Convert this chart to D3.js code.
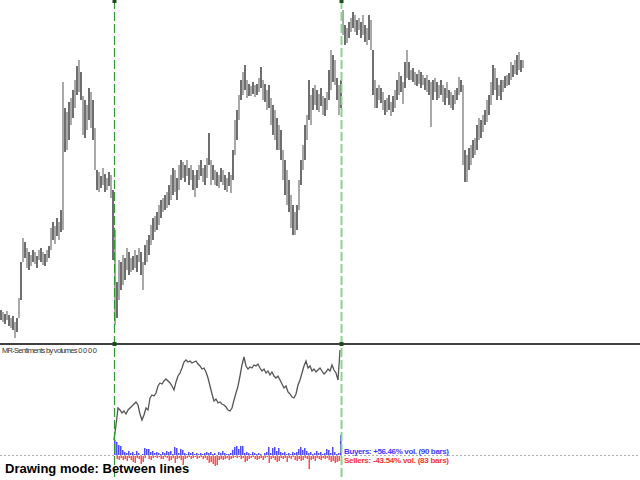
<!DOCTYPE html>
<html>
<head>
<meta charset="utf-8">
<script src="https://cdn.jsdelivr.net/npm/d3@7/dist/d3.min.js"></script>
<style>
    html, body { margin: 0; padding: 0; background: #fff; }
    svg { display: block; font-family: "Liberation Sans", Arial, sans-serif; }
</style>
</head>
<body>
<script>
// price bars, one per 2px (x = 0..522)
var highs = [
    40, 38, 36, 39, 35, 32, 34, 28, 32, 52,
    88, 112, 108, 102, 98, 95, 100, 98, 94, 100,
    102, 98, 96, 100, 104, 122, 128, 124, 132, 128,
    140, 268, 242, 238, 248, 252, 260, 270, 284, 290,
    278, 254, 250, 245, 262, 258, 250, 222, 180, 178,
    174, 182, 176, 172, 178, 175, 160, 120, 68, 90,
    88, 95, 92, 102, 98, 92, 94, 100, 95, 102,
    98, 88, 105, 110, 115, 125, 132, 134, 138, 145,
    150, 152, 155, 158, 165, 175, 182, 180, 172, 185,
    190, 188, 185, 190, 182, 185, 180, 175, 180, 185,
    190, 182, 185, 192, 217, 190, 185, 180, 178, 175,
    182, 180, 175, 172, 178, 175, 200, 230, 240, 255,
    270, 278, 285, 270, 266, 264, 268, 265, 266, 272,
    283, 270, 266, 260, 265, 252, 245, 240, 232, 225,
    220, 200, 190, 180, 170, 155, 145, 138, 145, 170,
    190, 205, 225, 235, 270, 255, 262, 265, 260, 256,
    262, 254, 252, 258, 280, 300, 295, 290, 272, 265,
    270, 340, 325, 322, 328, 332, 338, 335, 330, 332,
    328, 335, 325, 322, 335, 330, 300, 270, 262, 265,
    262, 258, 250, 252, 255, 248, 254, 260, 270, 278,
    274, 268, 288, 300, 288, 280, 282, 278, 276, 280,
    278, 275, 272, 275, 270, 268, 270, 272, 268, 265,
    270, 265, 262, 268, 260, 258, 255, 260, 262, 273,
    270, 265, 200, 195, 202, 205, 210, 212, 225, 232,
    230, 235, 240, 250, 255, 268, 285, 282, 272, 265,
    270, 270, 274, 275, 277, 288, 285, 290, 295, 298,
    290, 290
];
var lows = [
    30, 28, 26, 30, 24, 22, 20, 12, 18, 32,
    50, 88, 92, 82, 80, 84, 88, 86, 82, 90,
    88, 85, 84, 88, 92, 100, 110, 106, 114, 110,
    118, 120, 198, 200, 210, 225, 232, 242, 255, 258,
    250, 215, 212, 220, 230, 222, 210, 180, 160, 158,
    162, 165, 158, 160, 164, 152, 90, 25, 32, 50,
    60, 65, 70, 80, 75, 78, 80, 82, 78, 88,
    75, 60, 85, 88, 95, 105, 110, 118, 120, 125,
    132, 138, 140, 142, 145, 150, 155, 158, 150, 160,
    170, 172, 168, 174, 165, 170, 160, 153, 162, 170,
    174, 168, 165, 172, 185, 165, 170, 165, 164, 162,
    168, 165, 160, 158, 164, 157, 170, 195, 210, 230,
    250, 255, 260, 252, 254, 254, 256, 253, 255, 258,
    262, 250, 248, 240, 242, 225, 215, 210, 200, 200,
    190, 170, 155, 145, 138, 122, 115, 115, 120, 140,
    165, 180, 190, 210, 230, 225, 240, 245, 240, 238,
    244, 235, 234, 240, 250, 260, 268, 265, 250, 235,
    242, 315, 305, 307, 312, 318, 322, 318, 315, 320,
    312, 315, 308, 305, 310, 300, 255, 242, 242, 250,
    247, 240, 235, 238, 240, 234, 238, 242, 250, 255,
    258, 246, 262, 272, 270, 270, 268, 265, 264, 266,
    262, 265, 260, 258, 255, 223, 250, 258, 250, 252,
    255, 248, 245, 252, 245, 242, 240, 246, 250, 255,
    258, 185, 168, 168, 180, 185, 192, 195, 200, 210,
    212, 218, 225, 228, 235, 245, 255, 260, 250, 254,
    250, 258, 262, 264, 265, 270, 273, 276, 275, 280,
    278, 282
];

// indicator: starts at the first vertical line (bar 57), ends at the second
var firstBar = 57;
var sentiment = [
    10, 25, 42, 40, 37, 39, 36, 40, 42, 44,
    46, 48, 45, 36, 30, 35, 42, 40, 52, 55,
    54, 57, 64, 67, 66, 69, 71, 69, 67, 64,
    60, 68, 74, 77, 82, 88, 90, 88, 89, 87,
    88, 89, 86, 84, 81, 82, 78, 72, 64, 56,
    49, 51, 47, 48, 46, 45, 43, 40, 39, 42,
    50, 57, 64, 74, 85, 93, 84, 81, 83, 82,
    85, 84, 86, 82, 79, 81, 77, 79, 75, 78,
    74, 72, 74, 70, 66, 62, 64, 58, 56, 53,
    52, 56, 65, 70, 77, 84, 89, 82, 84, 79,
    81, 78, 80, 82, 79, 76, 78, 81, 79, 85,
    80, 77, 70, 100
];
var buyVol = [
    15, 13, 10, 9, 5, 3, 2, 4, 2, 3,
    1, 4, 2, 0, 1, 7, 6, 6, 3, 4,
    2, 3, 2, 1, 3, 2, 4, 3, 4, 1,
    8, 7, 2, 6, 5, 2, 1, 3, 2, 3,
    1, 2, 1, 2, 1, 2, 3, 2, 3, 1,
    2, 0, 3, 2, 4, 2, 1, 1, 2, 5,
    8, 9, 6, 9, 9, 2, 3, 2, 1, 3,
    2, 1, 2, 1, 0, 2, 3, 8, 2, 7,
    8, 4, 7, 3, 2, 3, 1, 2, 1, 3,
    2, 3, 6, 8, 5, 7, 4, 2, 3, 1,
    2, 4, 2, 3, 1, 2, 6, 5, 2, 8,
    3, 1, 2, 20
];
var sellVol = [
    0, 3, 4, 2, 4, 3, 5, 2, 4, 6,
    7, 2, 3, 8, 6, 2, 0, 3, 4, 2,
    1, 2, 1, 3, 3, 1, 2, 5, 4, 2,
    7, 3, 2, 4, 9, 3, 2, 1, 3, 2,
    1, 3, 2, 1, 3, 2, 4, 7, 6, 8,
    10, 9, 4, 3, 4, 3, 2, 4, 3, 2,
    1, 2, 1, 3, 2, 6, 5, 3, 2, 1,
    3, 4, 3, 2, 4, 2, 1, 7, 3, 2,
    4, 6, 5, 2, 3, 2, 6, 2, 3, 1,
    4, 5, 3, 5, 4, 2, 3, 13, 4, 3,
    5, 2, 3, 4, 2, 3, 2, 4, 6, 5,
    7, 6, 5, 0
];
var markerBars = [57, 170.5];

var width = 640;
var height = 480;
var paneSplit = 344;
var zeroY = 455;

var svg = d3.select('body').append('svg')
    .attr('width', width)
    .attr('height', height);

var x = d3.scaleLinear().domain([0, 261]).range([0, 522]);
var y = d3.scaleLinear().domain([0, 350]).range([350, 0]);
var yInd = d3.scaleLinear().domain([0, 100]).range([450, 350]);
var vol = d3.scaleLinear().domain([0, 20]).range([0, 20]);

// price bars (two grey tones side by side, as the terminal draws them)
svg.append('g')
    .attr('class', 'bars')
    .selectAll('line')
    .data(highs)
    .enter().append('line')
    .attr('x1', function(d, i) { return x(i) + 1; })
    .attr('x2', function(d, i) { return x(i) + 1; })
    .attr('y1', function(d) { return y(d); })
    .attr('y2', function(d, i) { return y(lows[i]); })
    .attr('stroke', function(d, i) {
        return i % 2 ? '#9a9a9a' : '#555555';
    })
    .attr('stroke-width', 1.7);

// zero line of the volume histogram
svg.append('line')
    .attr('x1', 0).attr('x2', width)
    .attr('y1', zeroY + 0.5).attr('y2', zeroY + 0.5)
    .attr('stroke', '#b0b0b0')
    .attr('stroke-dasharray', '2,2');

// buyers / sellers histogram
svg.append('g')
    .selectAll('rect')
    .data(buyVol)
    .enter().append('rect')
    .attr('x', function(d, i) { return x(firstBar + i); })
    .attr('y', function(d) { return zeroY - vol(d); })
    .attr('width', 1.5)
    .attr('height', function(d) { return vol(d); })
    .attr('fill', '#4d4dff');

svg.append('g')
    .selectAll('rect')
    .data(sellVol)
    .enter().append('rect')
    .attr('x', function(d, i) { return x(firstBar + i) + 0.5; })
    .attr('y', zeroY + 1)
    .attr('width', 1.5)
    .attr('height', function(d) { return vol(d); })
    .attr('fill', '#ff4d4d');

// sentiment line
var line = d3.line()
    .x(function(d, i) { return x(firstBar + i); })
    .y(function(d) { return yInd(d); });

svg.append('path')
    .datum(sentiment)
    .attr('d', line)
    .attr('fill', 'none')
    .attr('stroke', '#555')
    .attr('stroke-width', 1.3);

// pane separator
svg.append('rect')
    .attr('x', 0).attr('y', paneSplit - 1)
    .attr('width', width).attr('height', 2)
    .attr('fill', '#404040');

// vertical range lines
var lineColors = ['#2f9a2f', '#8fd18f'];
var lineWidths = [1.2, 2];
markerBars.forEach(function(b, k) {
    var px = Math.round(x(b)) + 0.5;
    svg.append('line')
        .attr('x1', px).attr('x2', px)
        .attr('y1', 0).attr('y2', height)
        .attr('stroke', lineColors[k])
        .attr('stroke-width', lineWidths[k])
        .attr('stroke-dasharray', '9,3');
    [1, paneSplit].forEach(function(py) {
        svg.append('rect')
            .attr('x', px - 2).attr('y', py - 2)
            .attr('width', 4).attr('height', 4)
            .attr('fill', '#1e4d1e');
    });
});

// texts
svg.append('text')
    .attr('x', 2).attr('y', 353)
    .attr('font-size', 7.5)
    .attr('fill', '#333')
    .attr('textLength', 95)
    .text('MR-Sentiments by volumes 0 0 0 0');

var labelX = x(markerBars[1]) + 3;
svg.append('text')
    .attr('x', labelX).attr('y', 454)
    .attr('font-size', 8)
    .attr('font-weight', 'bold')
    .attr('fill', '#3c3cff')
    .attr('textLength', 105)
    .text('Buyers: +56.46% vol. (90 bars)');

svg.append('text')
    .attr('x', labelX).attr('y', 463)
    .attr('font-size', 8)
    .attr('font-weight', 'bold')
    .attr('fill', '#ff3030')
    .attr('textLength', 105)
    .text('Sellers: -43.54% vol. (83 bars)');

svg.append('text')
    .attr('x', 5).attr('y', 473)
    .attr('font-size', 13)
    .attr('font-weight', 'bold')
    .attr('fill', '#000')
    .text('Drawing mode: Between lines');
</script>
</body>
</html>
